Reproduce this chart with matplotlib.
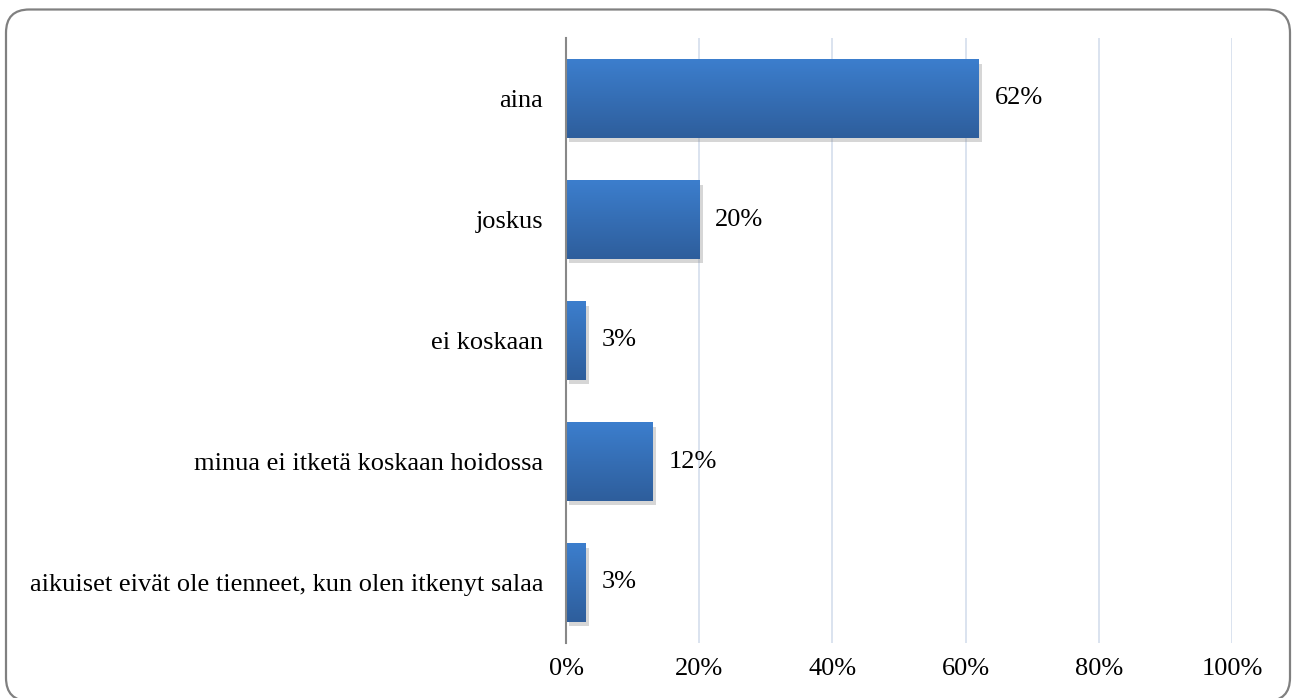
import numpy as np
import matplotlib.pyplot as plt
from matplotlib.patches import FancyBboxPatch
from matplotlib import patheffects as pe
from matplotlib.colors import LinearSegmentedColormap

categories = ["aina", "joskus", "ei koskaan", "minua ei itketä koskaan hoidossa",
              "aikuiset eivät ole tienneet, kun olen itkenyt salaa"]
values = [0.62, 0.20, 0.03, 0.13, 0.03]
value_labels = ["62%", "20%", "3%", "12%", "3%"]
xticks = [0, 0.2, 0.4, 0.6, 0.8, 1.0]
xtick_labels = ["0%", "20%", "40%", "60%", "80%", "100%"]

plt.rcParams['font.family'] = ['Liberation Serif', 'DejaVu Serif']

fig = plt.figure(figsize=(12.93, 6.98), dpi=100)
W, H = 1293, 698
ax = fig.add_axes([566/W, 1-643/H, 666/W, 605/H])

y = np.arange(len(categories))
bar_h = 0.645
bars = ax.barh(y, values, height=bar_h, color="#3470b8", zorder=3,
               path_effects=[pe.SimplePatchShadow(offset=(2.5, -3), shadow_rgbFace="#8a8a8a", alpha=0.35), pe.Normal()])

# gradient fill, lighter on top
grad = LinearSegmentedColormap.from_list("g", ["#3c7ecd", "#2e5e9c"])
g = np.linspace(0, 1, 100).reshape(-1, 1)
for b in bars:
    x0, y0, w, h = b.get_x(), b.get_y(), b.get_width(), b.get_height()
    ax.imshow(g, cmap=grad, aspect="auto", origin="upper",
              extent=(x0, x0 + w, y0 + h, y0), zorder=4)

for yi, v, lab in zip(y, values, value_labels):
    ax.text(v + 0.024, yi, lab, va="center", ha="left", fontsize=19)

ax.set_xlim(0, 1.0)
ax.set_ylim(len(categories) - 0.5, -0.5)
ax.set_xticks(xticks)
ax.set_xticklabels(xtick_labels, fontsize=19)
ax.set_yticks(y)
ax.set_yticklabels(categories, fontsize=19)
ax.tick_params(length=0)
ax.tick_params(axis="y", pad=16.5)
ax.tick_params(axis="x", pad=11)
ax.xaxis.grid(True, color="#d8e1ee", lw=1.3, zorder=0)
for s in ["top", "right", "bottom"]:
    ax.spines[s].set_visible(False)
ax.spines["left"].set_color("#888888")
ax.spines["left"].set_linewidth(1.5)
ax.spines["left"].set_zorder(5)

frame = FancyBboxPatch((6/W, -3/H), 1284/W, (H - 9.5 + 3)/H,
                       boxstyle="round,pad=0,rounding_size=0.018",
                       transform=fig.transFigure, fill=False,
                       edgecolor="#808080", lw=1.6, mutation_aspect=W/H)
fig.patches.append(frame)

plt.savefig("out.png", dpi=100)
